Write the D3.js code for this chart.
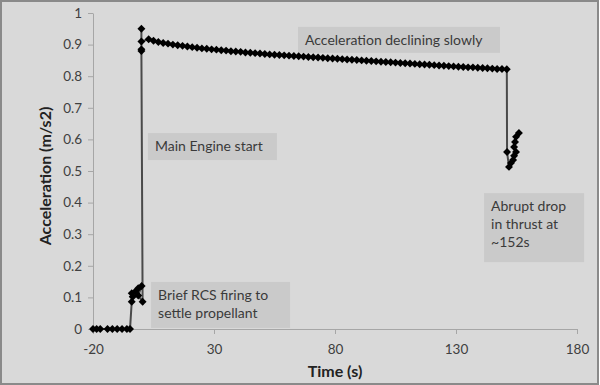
<!DOCTYPE html>
<html>
<head>
<meta charset="utf-8">
<script src="https://cdn.jsdelivr.net/npm/d3@7"></script>
<style>
  body { margin: 0; background: #fff; }
  text { font-family: Lato, "Open Sans", sans-serif; }
</style>
</head>
<body>
<div id="chart-area"></div>
<script>
// Size of the picture
width = 600;
height = 385

// Time (s) and acceleration (m/s2), in plotting order
let times = [
  -20, -18.5, -17, -14, -12, -10, -8, -6, -4.7,
  -4.0, -3.6, -4.0, -2.6, -1.3, 0.1, -1.3, 0.5,
  0, 0, 0, 0,
  3, 5, 7, 9, 11, 13, 15, 17, 19, 21, 23, 25, 27, 29, 31, 33, 35, 37, 39,
  41, 43, 45, 47, 49, 51, 53, 55, 57, 59, 61, 63, 65, 67, 69, 71, 73, 75,
  77, 79, 81, 83, 85, 87, 89, 91, 93, 95, 97, 99, 101, 103, 105, 107, 109,
  111, 113, 115, 117, 119, 121, 123, 125, 127, 129, 131, 133, 135, 137, 139,
  141, 143, 145, 147, 149, 151,
  151.1, 151.9, 152.7, 153.6, 154.0, 154.8, 154.0, 154.4, 154.8, 156.0
]
let accel = [
  0, 0, 0, 0, 0, 0, 0, 0, 0,
  0.086, 0.102, 0.113, 0.118, 0.129, 0.136, 0.106, 0.086,
  0.88, 0.885, 0.95, 0.91,
  0.917, 0.912, 0.908, 0.905, 0.903, 0.900, 0.898, 0.896, 0.894, 0.892, 0.890,
  0.888, 0.887, 0.885, 0.884, 0.882, 0.881, 0.879, 0.878, 0.877, 0.875, 0.874,
  0.873, 0.872, 0.870, 0.869, 0.868, 0.867, 0.866, 0.865, 0.864, 0.863, 0.862,
  0.861, 0.860, 0.859, 0.858, 0.857, 0.856, 0.855, 0.854, 0.853, 0.852, 0.851,
  0.850, 0.849, 0.848, 0.847, 0.846, 0.845, 0.844, 0.843, 0.842, 0.841, 0.840,
  0.839, 0.838, 0.837, 0.836, 0.835, 0.834, 0.833, 0.832, 0.831, 0.830, 0.829,
  0.828, 0.828, 0.827, 0.826, 0.825, 0.824, 0.823, 0.823, 0.822,
  0.56, 0.513, 0.525, 0.535, 0.548, 0.56, 0.576, 0.592, 0.608, 0.62
]

// Tick values
let xTicks = [-20, 30, 80, 130, 180]
let yTicks = [0, 0.1, 0.2, 0.3, 0.4, 0.5, 0.6, 0.7, 0.8, 0.9, 1]

// Annotations: text lines and the data point where the box starts (top-left)
let notes = [
  { lines: ["Acceleration declining slowly"], t: 64.7, a: 0.956, w: 202, h: 26 },
  { lines: ["Main Engine start"], t: 2.7, a: 0.62, w: 129, h: 27 },
  { lines: ["Brief RCS firing to", "settle propellant"], t: 4.0, a: 0.149, w: 139, h: 46 },
  { lines: ["Abrupt drop", "in thrust at", "~152s"], t: 141.6, a: 0.430, w: 100, h: 69 }
]

let data = times.map((t, i) => ({ t: t, a: accel[i] }))
Draw(data)

function Draw(data) {
  let margin = { left: 93, right: 23, top: 13, bottom: 56 }

  let xScale = d3.scaleLinear().domain([-20, 180]).range([margin.left, width - margin.right])
  let yScale = d3.scaleLinear().domain([0, 1]).range([height - margin.bottom, margin.top])

  svg = d3.select("#chart-area")
    .append("svg")
    .attr("width", width)
    .attr("height", height)

  // background and outer frame
  svg.append("rect")
    .attr("x", 1).attr("y", 1)
    .attr("width", width - 3).attr("height", height - 2)
    .attr("fill", "#d9d9d9")
    .attr("stroke", "#8a8a8a")
    .attr("stroke-width", 2)

  // annotation boxes (drawn behind the line)
  let note = svg.selectAll("g.note")
    .data(notes)
    .enter().append("g")
    .attr("class", "note")
    .attr("transform", d => "translate(" + xScale(d.t) + "," + yScale(d.a) + ")")

  note.append("rect")
    .attr("width", d => d.w)
    .attr("height", d => d.h)
    .attr("fill", "#cacaca")

  note.each(function (d) {
    let g = d3.select(this)
    d.lines.forEach((line, i) => {
      g.append("text")
        .attr("x", 7)
        .attr("y", 18 + i * 18)
        .attr("font-size", "14px")
        .attr("fill", "#3a3a3a")
        .text(line)
    })
  })

  // axes
  let xAxis = d3.axisBottom(xScale).tickValues(xTicks).tickSize(5).tickSizeOuter(0).tickFormat(d => String(d))
  let yAxis = d3.axisLeft(yScale).tickValues(yTicks).tickSize(5).tickSizeOuter(0).tickFormat(d => d === 0 || d === 1 ? d : d.toFixed(1))

  let gx = svg.append("g")
    .attr("class", "xaxis")
    .attr("transform", "translate(0," + (height - margin.bottom) + ")")
    .call(xAxis)

  let gy = svg.append("g")
    .attr("class", "yaxis")
    .attr("transform", "translate(" + margin.left + ",0)")
    .call(yAxis)

  svg.selectAll(".xaxis path, .yaxis path, .xaxis line, .yaxis line")
    .attr("stroke", "#a6a6a6")
  svg.selectAll(".xaxis text, .yaxis text")
    .attr("font-family", "Lato, 'Open Sans', sans-serif")
    .attr("font-size", "13.5px")
    .attr("fill", "#404040")
  gx.selectAll("text").attr("dy", "1.25em")
  gy.selectAll("text").attr("dx", "-3px")

  // the line and its markers
  let line = d3.line()
    .x(d => xScale(d.t))
    .y(d => yScale(d.a))

  svg.append("path")
    .datum(data)
    .attr("d", line)
    .attr("fill", "none")
    .attr("stroke", "#4a4a4a")
    .attr("stroke-width", 2)

  svg.selectAll("path.marker")
    .data(data)
    .enter().append("path")
    .attr("class", "marker")
    .attr("d", d3.symbol().type(d3.symbolDiamond2).size(40))
    .attr("transform", d => "translate(" + xScale(d.t) + "," + yScale(d.a) + ")")
    .attr("fill", "black")

  // axis titles
  svg.append("text")
    .attr("x", 335)
    .attr("y", 377)
    .attr("text-anchor", "middle")
    .attr("font-size", "16px")
    .attr("font-weight", "bold")
    .attr("fill", "#222")
    .text("Time (s)")

  svg.append("text")
    .attr("transform", "translate(51," + 176 + ") rotate(-90)")
    .attr("text-anchor", "middle")
    .attr("font-size", "16px")
    .attr("font-weight", "bold")
    .attr("fill", "#222")
    .text("Acceleration (m/s2)")
}
</script>
</body>
</html>
